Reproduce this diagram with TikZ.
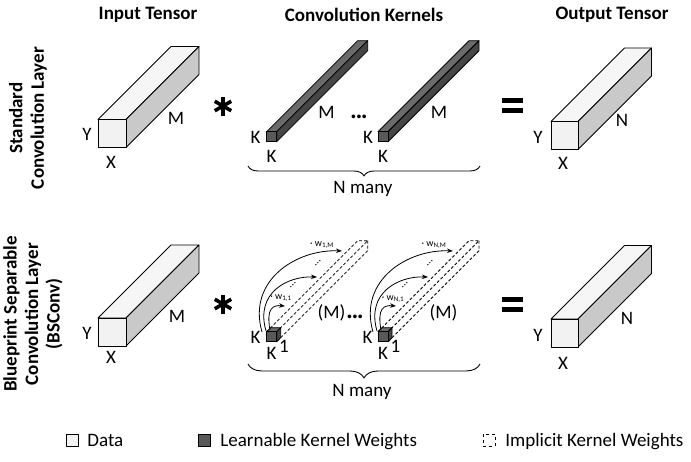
\documentclass[tikz,border=0pt]{standalone}
\usepackage{fontspec}
\setmainfont{Carlito}
\usetikzlibrary{arrows.meta,decorations.pathreplacing}

\definecolor{datafront}{HTML}{F2F2F2}
\definecolor{datatop}{HTML}{F6F6F6}
\definecolor{dataside}{HTML}{C9C9C9}
\definecolor{kernfront}{HTML}{595959}
\definecolor{kerntop}{HTML}{6B6B6B}
\definecolor{kernside}{HTML}{454545}

% box seen from the front: x, y (front top left), width, height, depth, colour set
\newcommand{\slab}[6]{%
  \filldraw[fill=#6top] (#1,#2) -- ++(#5,-#5) -- ++(#3,0) -- ++(-#5,#5) -- cycle;
  \filldraw[fill=#6side] (#1+#3,#2) -- ++(#5,-#5) -- ++(0,#4) -- ++(-#5,#5) -- cycle;
  \filldraw[fill=#6front] (#1,#2) rectangle ++(#3,#4);
}
% dashed outline of the implicit kernel
\newcommand{\ghostbar}[5]{%
  \draw[implicit] (#1,#2) -- ++(#5,-#5) -- ++(#3,0) -- ++(-#5,#5);
  \draw[implicit] (#1+#3+#5,#2-#5) -- ++(0,#4) -- ++(-#5,#5);
}

\tikzset{
  lbl/.style={font=\fontsize{19}{22}\selectfont, inner sep=0pt},
  head/.style={font=\bfseries\fontsize{19}{22}\selectfont, inner sep=0pt},
  rowlbl/.style={font=\bfseries\fontsize{19}{21.5}\selectfont, align=center, rotate=90, inner sep=0pt},
  wlbl/.style={font=\fontsize{10}{12}\selectfont, inner sep=0pt},
  dotlbl/.style={font=\fontsize{11}{12}\selectfont, inner sep=0pt},
  bigdots/.style={font=\bfseries\fontsize{20}{22}\selectfont, inner sep=0pt},
  weight/.style={-{Stealth[length=6pt,width=4.5pt]}, line width=0.8pt},
  nbrace/.style={decorate, decoration={brace, mirror, amplitude=#1}, line width=0.9pt},
  implicit/.style={line width=0.8pt, dash pattern=on 3pt off 2pt},
  mulsign/.style={line width=3.6pt},
  legbox/.style={draw, line width=1pt, minimum size=12pt, inner sep=0pt},
}

\begin{document}
\begin{tikzpicture}[x=1pt,y=-1pt,line join=round,line width=0.8pt]
\useasboundingbox (0,0) rectangle (691,461);

% column and row heads
\node[head] (hin) at (148,15) {Input Tensor};
\node[head] (hker) at (364,15) {Convolution Kernels};
\node[head] (hout) at (612,15) {Output Tensor};
\node[rowlbl] (rstd) at (28,118) {Standard\\Convolution Layer};
\node[rowlbl] (rbs) at (33,314) {Blueprint Separable\\Convolution Layer\\(BSConv)};

% standard convolution
\slab{98}{119.5}{28}{28}{73}{data}
\node[lbl] (yin1) at (87,134) {Y};
\node[lbl] (xin1) at (111,162) {X};
\node[lbl] (min1) at (176,118) {M};
\coordinate (mul1) at (223,106);
\foreach \a in {90,30,150}
  \draw[mulsign] (mul1) ++(\a:9.5) -- ++(\a+180:19);

\slab{266.7}{131.7}{10}{10}{91}{kern}
\slab{378}{131.7}{10}{10}{91}{kern}
\node[lbl] (kl1) at (255.5,137.5) {K};
\node[lbl] (kb1) at (271.5,156) {K};
\node[lbl] (mk1) at (326.5,112.5) {M};
\node[bigdots] (dots1) at (359,119) {···};
\node[lbl] (kl2) at (368,137.5) {K};
\node[lbl] (kb2) at (383,156) {K};
\node[lbl] (mk2) at (439,112.5) {M};
\coordinate (bl1) at (248,166);
\coordinate (br1) at (480,166);
\draw[nbrace=10pt] (bl1) -- (br1);
\node[lbl, anchor=base] (nm1) at (363,193) {N many};

\fill (502,98) rectangle (523,103);
\fill (502,107.5) rectangle (523,112.5);

\slab{551}{121.5}{27}{28}{73.5}{data}
\node[lbl] (yout1) at (538,137) {Y};
\node[lbl] (xout1) at (563,163) {X};
\node[lbl] (nout1) at (622,120) {N};

% blueprint separable convolution
\slab{98}{318}{28}{28}{73}{data}
\node[lbl] (yin2) at (87,333) {Y};
\node[lbl] (xin2) at (111,357) {X};
\node[lbl] (min2) at (177,316) {M};
\coordinate (mul2) at (223,304);
\foreach \a in {90,30,150}
  \draw[mulsign] (mul2) ++(\a:9.5) -- ++(\a+180:19);

\ghostbar{266.7}{331.7}{10}{10}{91}
\slab{266.7}{331.7}{10}{10}{4}{kern}
\ghostbar{378}{331.7}{10}{10}{91}
\slab{378}{331.7}{10}{10}{4}{kern}

% weights of the first kernel
\coordinate (s11) at (270,330);
\coordinate (t11) at (285,306);
\coordinate (s12) at (266,331);
\coordinate (t12) at (317,277);
\coordinate (s13) at (262,332);
\coordinate (t13) at (342,251);
\draw[weight] (s11) .. controls +(-4,-22) and +(-12,-1) .. (t11);
\draw[weight] (s12) .. controls +(-11,-38) and +(-30,-1) .. (t12);
\draw[weight] (s13) .. controls +(-15,-52) and +(-45,-2) .. (t13);
\node[wlbl] (w11) at (281,298) {· w\textsubscript{1,1}};
\node[wlbl] (w1m) at (322,245) {· w\textsubscript{1,M}};
\node[dotlbl, rotate=45] (d11) at (293,285) {...};
\node[dotlbl, rotate=45] (d12) at (318,263) {...};

% weights of the last kernel
\coordinate (s21) at (381,330);
\coordinate (t21) at (396,306);
\coordinate (s22) at (377,331);
\coordinate (t22) at (428,277);
\coordinate (s23) at (373,332);
\coordinate (t23) at (453,251);
\draw[weight] (s21) .. controls +(-4,-22) and +(-12,-1) .. (t21);
\draw[weight] (s22) .. controls +(-11,-38) and +(-30,-1) .. (t22);
\draw[weight] (s23) .. controls +(-15,-52) and +(-45,-2) .. (t23);
\node[wlbl] (wn1) at (393,299) {· w\textsubscript{N,1}};
\node[wlbl] (wnm) at (434,245) {· w\textsubscript{N,M}};
\node[dotlbl, rotate=45] (d21) at (405,285) {...};
\node[dotlbl, rotate=45] (d22) at (430,263) {...};

\node[lbl] (kl3) at (255.5,337) {K};
\node[lbl] (kb3) at (271.5,353) {K};
\node[lbl] (one1) at (284,346) {1};
\node[lbl] (mm1) at (331.5,312.5) {(M)};
\node[bigdots] (dots2) at (355,319) {···};
\node[lbl] (kl4) at (367.5,337) {K};
\node[lbl] (kb4) at (383,353) {K};
\node[lbl] (one2) at (395.5,346) {1};
\node[lbl] (mm2) at (443.5,312.5) {(M)};
\coordinate (bl2) at (248,364);
\coordinate (br2) at (480,364);
\draw[nbrace=14pt] (bl2) -- (br2);
\node[lbl, anchor=base] (nm2) at (362,396) {N many};

\fill (502,296.5) rectangle (523,301.5);
\fill (502,307) rectangle (523,312);

\slab{551}{319}{27}{28}{73.5}{data}
\node[lbl] (yout2) at (538,335) {Y};
\node[lbl] (xout2) at (563,363) {X};
\node[lbl] (nout2) at (627,318) {N};

% legend
\node[legbox, fill=datafront] (ldata) at (72,440) {};
\node[lbl, anchor=base west] (tdata) at (87,446) {Data};
\node[legbox, fill=kernfront] (lkern) at (204.5,440) {};
\node[lbl, anchor=base west] (tkern) at (220,446) {Learnable Kernel Weights};
\node[legbox, dashed] (limp) at (489,440) {};
\node[lbl, anchor=base west] (timp) at (505,446) {Implicit Kernel Weights};
\end{tikzpicture}
\end{document}
